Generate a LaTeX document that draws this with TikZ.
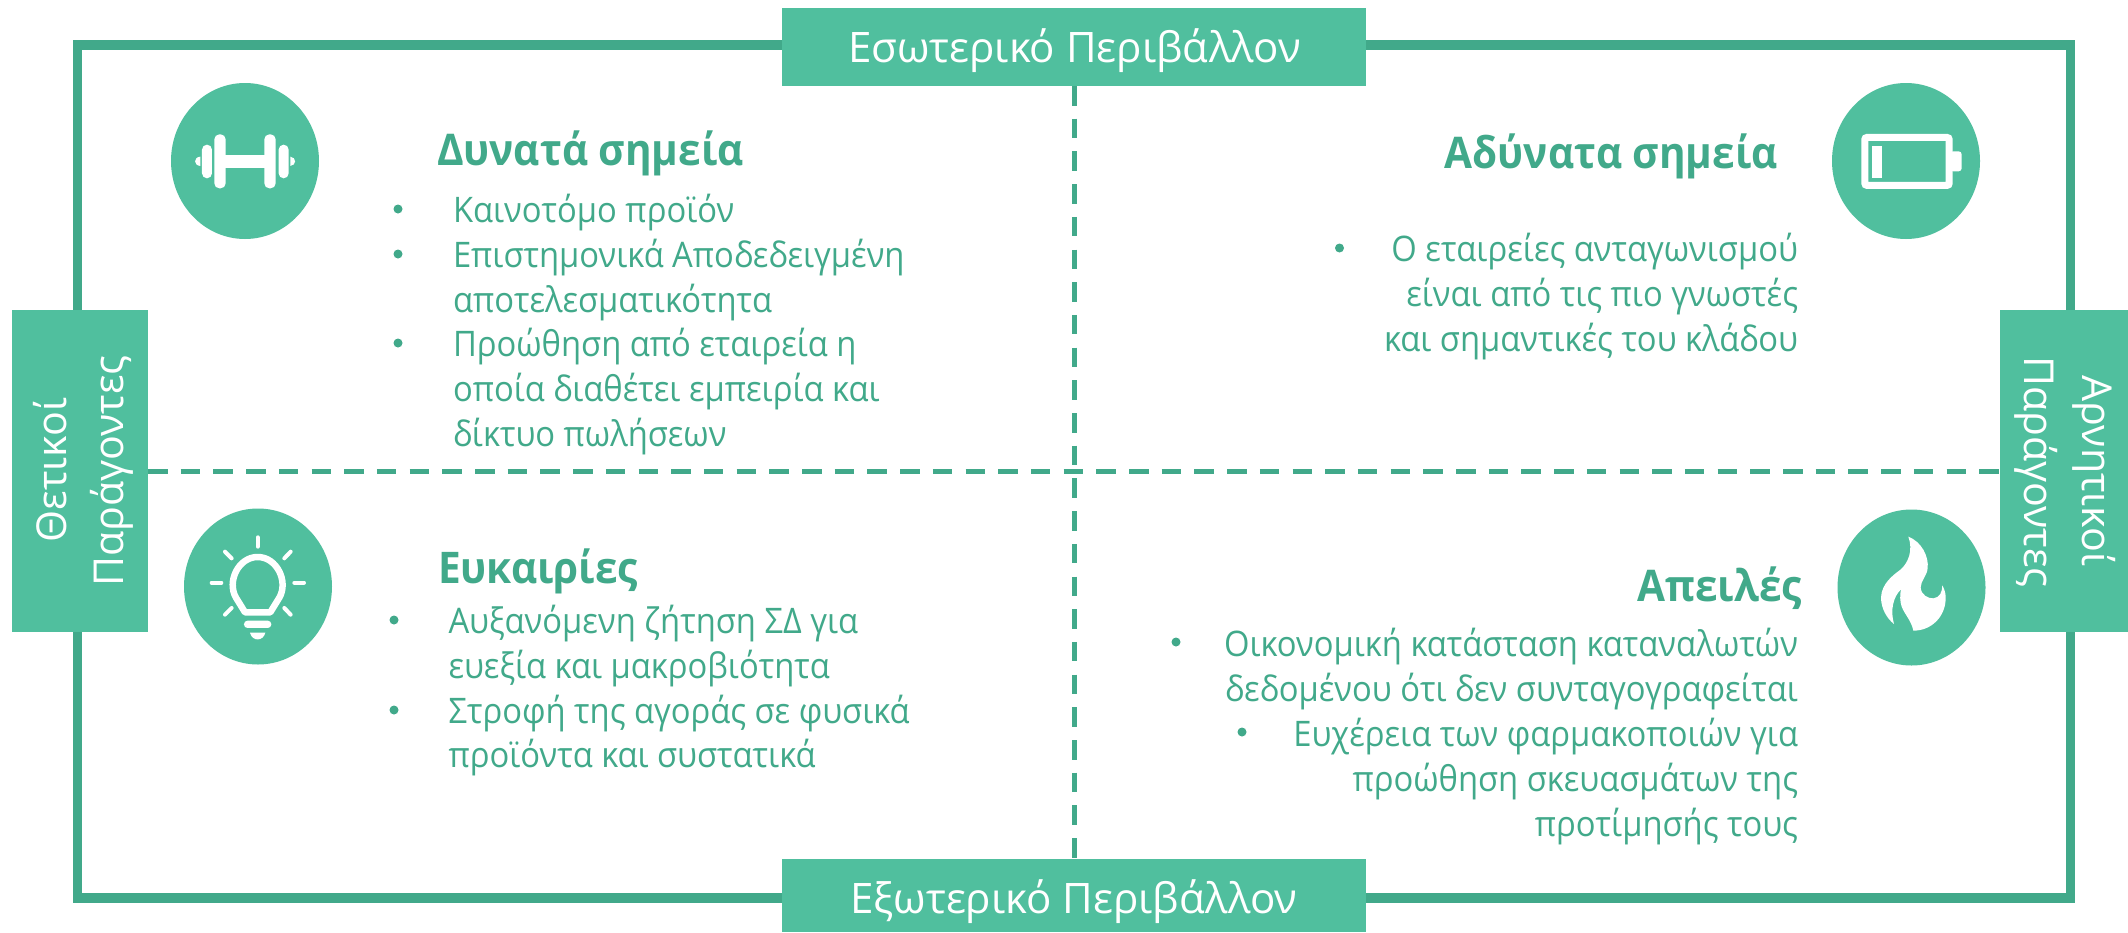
\documentclass[tikz,border=0pt]{standalone}
\usepackage{fontspec}
\setmainfont{Open Sans}
\newfontfamily\bodyf[FakeStretch=0.93]{Open Sans}
\newfontfamily\labf{Open Sans}
\definecolor{boxg}{HTML}{50BF9E}
\definecolor{lineg}{HTML}{41A98A}
\usetikzlibrary{shapes.geometric}
\tikzset{
 panel/.style={fill=boxg,draw=none,inner sep=0pt,outer sep=0pt,minimum width=#1},
 bodyt/.style={inner sep=0pt,outer sep=0pt,text=lineg,font=\bodyf\fontsize{35.2}{45}\selectfont,anchor=base west},
 bodyr/.style={bodyt,anchor=base east},
 titlet/.style={inner sep=0pt,outer sep=0pt,text=lineg,font=\bfseries\bodyf\fontsize{43.6}{48}\selectfont,anchor=base west},
 titler/.style={titlet,anchor=base east},
 bul/.style={circle,fill=lineg,draw=none,minimum size=9pt,inner sep=0pt},
 disc/.style={ellipse,fill=boxg,draw=none,inner sep=0pt,outer sep=0pt,minimum width=148pt,minimum height=156pt},
 lab/.style={inner sep=0pt,outer sep=0pt,text=white,font=\labf\fontsize{42}{48}\selectfont,anchor=base},
 side/.style={inner sep=0pt,outer sep=0pt,text=white,font=\labf\fontsize{41.2}{48}\selectfont,anchor=base},
 dashline/.style={draw=lineg,line width=5pt,dash pattern=on 19.5pt off 13.2pt},
 white ray/.style={draw=white,line width=4pt,line cap=round},
}
\begin{document}
\begin{tikzpicture}[x=1pt,y=-1pt]
\useasboundingbox (0,0) rectangle (2128,932);
\fill[white] (0,0) rectangle (2128,932);
\draw[lineg,line width=9.5pt] (77.5,45) rectangle (2070.5,898);
\node[panel=584pt,minimum height=78pt] (top) at (1074,47) {};
\node[panel=584pt,minimum height=73pt] (bot) at (1074,895.5) {};
\node[panel=136pt,minimum height=322pt] (left) at (80,471) {};
\node[panel=128pt,minimum height=322pt] (right) at (2064,471) {};
\draw[dashline] (left.east) -- (right.west);
\draw[dashline] (top.south) -- (bot.north);
\node[lab] (ttop) at (1074.5,62) {Εσωτερικό Περιβάλλον};
\node[lab] (tbot) at (1074,913) {Εξωτερικό Περιβάλλον};
\node[side,rotate=90] (l1) at (66.5,470) {Θετικοί};
\node[side,rotate=90] (l2) at (123,471) {Παράγοντες};
\node[side,rotate=-90] (r1) at (2082,471) {Αρνητικοί};
\node[side,rotate=-90] (r2) at (2024,472) {Παράγοντες};
% discs
\node[disc] (d1) at (245,161) {};
\node[disc] (d2) at (1906,161) {};
\node[disc] (d3) at (258,586.5) {};
\node[disc] (d4) at (1911.5,587.5) {};
% dumbbell
\begin{scope}[shift={(160,70)},x=.3333pt,y=-.3333pt]
\fill[white] (190,255) rectangle (320,295);
\fill[white,rounded corners=5pt] (163,193) rectangle (197,355);
\fill[white,rounded corners=5pt] (313,193) rectangle (347,355);
\fill[white,rounded corners=5pt] (126,224) rectangle (156,325);
\fill[white,rounded corners=5pt] (356,224) rectangle (386,325);
\fill[white] (121,260) .. controls (100,262) and (100,286) .. (121,288) -- cycle;
\fill[white] (391,260) .. controls (410,262) and (410,286) .. (391,288) -- cycle;
\end{scope}
% battery
\begin{scope}[shift={(1820,70)},x=.3333pt,y=-.3333pt]
\draw[white,line width=7pt,rounded corners=2pt] (134.5,202.5) rectangle (387.5,346);
\fill[white] (156,228) rectangle (186,324);
\fill[white,rounded corners=3pt] (390,244) -- (425,244) -- (425,304) -- (390,304) -- cycle;
\end{scope}
% bulb
\begin{scope}[shift={(170,510)},x=.3333pt,y=-.3333pt]
\draw[white ray] (263,82) -- (263,110);
\draw[white ray] (125,218) -- (154,218);
\draw[white ray] (373,218) -- (402,218);
\draw[white ray] (165,125) -- (185,145);
\draw[white ray] (362,125) -- (343,145);
\draw[white ray] (165,314) -- (185,294);
\draw[white ray] (362,314) -- (343,294);
\draw[white,line width=6.5pt,line join=round] (225,307) -- (198,263) .. controls (170,215) and (205,141) .. (263,141) .. controls (321,141) and (356,215) .. (328,263) -- (301,307) -- cycle;
\fill[white,rounded corners=3.5pt] (222,332) rectangle (304,354);
\fill[white] (240,368) -- (286,368) .. controls (280,395) and (246,395) .. (240,368) -- cycle;
\end{scope}
% flame
\begin{scope}[shift={(1825,500)},x=.3333pt,y=-.3333pt]
\fill[white] (250,110) .. controls (290,125) and (312,170) .. (308,205) .. controls (305,230) and (288,240) .. (287,262) .. controls (288,285) and (310,296) .. (325,295) .. controls (345,293) and (352,275) .. (352,256) .. controls (360,270) and (363,285) .. (362,298) .. controls (360,350) and (320,392) .. (265,392) .. controls (258,360) and (240,345) .. (230,320) .. controls (225,305) and (224,285) .. (228,268) .. controls (205,290) and (195,330) .. (207,372) .. controls (185,355) and (168,325) .. (168,292) .. controls (170,250) and (205,225) .. (225,210) .. controls (250,190) and (265,150) .. (250,110) -- cycle;
\end{scope}
% Q1
\node[titlet] (t1) at (437,165.5) {Δυνατά σημεία};
\node[bul] (b11) at (398,209) {};
\node[bodyt] (a1) at (453,222) {Καινοτόμο προϊόν};
\node[bul] (b12) at (398,254) {};
\node[bodyt] (a2) at (453,267) {Επιστημονικά Αποδεδειγμένη};
\node[bodyt] (a3) at (453,312) {αποτελεσματικότητα};
\node[bul] (b13) at (398,343) {};
\node[bodyt] (a4) at (453,356) {Προώθηση από εταιρεία η};
\node[bodyt] (a5) at (453,401) {οποία διαθέτει εμπειρία και};
\node[bodyt] (a6) at (453,446) {δίκτυο πωλήσεων};
% Q2
\node[titler] (t2) at (1778,168.5) {Αδύνατα σημεία};
\node[bul] (b21) at (1339.5,248) {};
\node[bodyr] (c1) at (1798,261) {Ο εταιρείες ανταγωνισμού};
\node[bodyr] (c2) at (1798,306) {είναι από τις πιο γνωστές};
\node[bodyr] (c3) at (1798,351) {και σημαντικές του κλάδου};
% Q3
\node[titlet] (t3) at (438,583) {Ευκαιρίες};
\node[bul] (b31) at (394,620) {};
\node[bodyt] (e1) at (448.5,633) {Αυξανόμενη ζήτηση ΣΔ για};
\node[bodyt] (e2) at (448.5,678) {ευεξία και μακροβιότητα};
\node[bul] (b32) at (394,710) {};
\node[bodyt] (e3) at (448.5,723) {Στροφή της αγοράς σε φυσικά};
\node[bodyt] (e4) at (448.5,767) {προϊόντα και συστατικά};
% Q4
\node[titler] (t4) at (1802,601) {Απειλές};
\node[bul] (b41) at (1176,642) {};
\node[bodyr] (f1) at (1798,656) {Οικονομική κατάσταση καταναλωτών};
\node[bodyr] (f2) at (1798,701) {δεδομένου ότι δεν συνταγογραφείται};
\node[bul] (b42) at (1242,732) {};
\node[bodyr] (f3) at (1798,746) {Ευχέρεια των φαρμακοποιών για};
\node[bodyr] (f4) at (1798,791) {προώθηση σκευασμάτων της};
\node[bodyr] (f5) at (1798,836) {προτίμησής τους};
\end{tikzpicture}
\end{document}
